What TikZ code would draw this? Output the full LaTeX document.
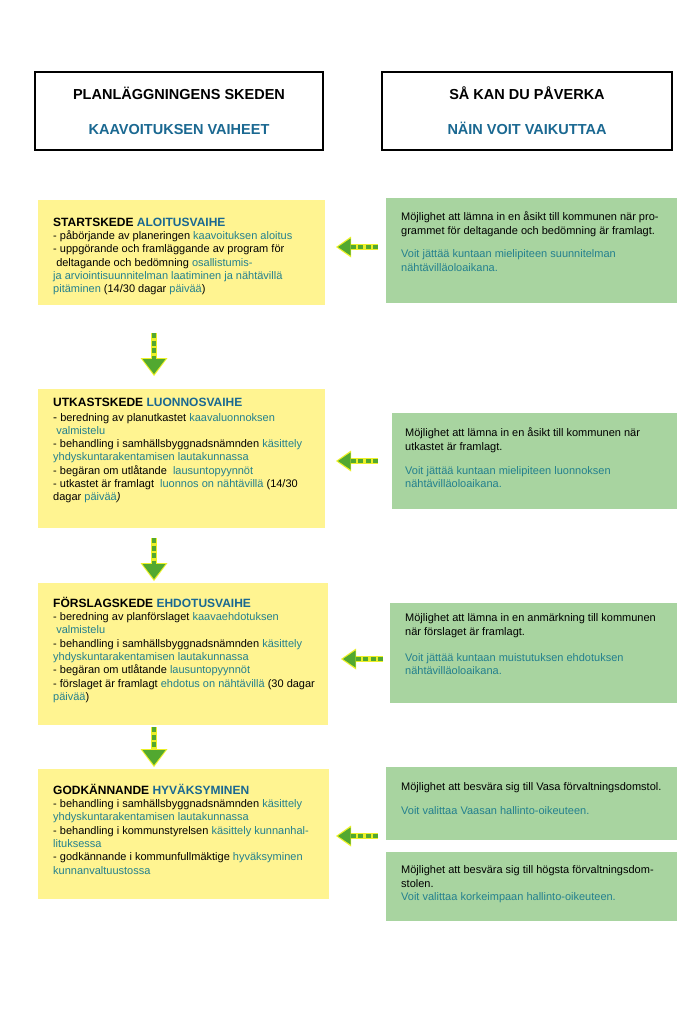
\documentclass[tikz,border=0pt]{standalone}
\usepackage{fontspec}
\setmainfont{Liberation Sans}
\usetikzlibrary{arrows.meta}
\definecolor{yfill}{RGB}{255,244,145}
\definecolor{gfill}{RGB}{168,212,160}
\definecolor{tealtxt}{RGB}{36,128,142}
\definecolor{titleblue}{RGB}{26,104,145}
\definecolor{agreen}{RGB}{82,168,48}
\definecolor{ayel}{RGB}{236,240,40}
\newcommand\fintxt[1]{\textcolor{tealtxt}{#1}}
\newcommand\fintitle[1]{\textcolor{titleblue}{#1}}
\newcommand\firststrut{\rule{0pt}{12pt}}
\tikzset{
  hdr/.style={draw=black, line width=2.6pt, fill=white, minimum width=#1, minimum height=78pt, inner sep=0pt, align=center, font=\fontsize{14.5}{35}\selectfont\bfseries},
  ybox/.style={fill=yfill, draw=none, anchor=north west, inner sep=0pt},
  gbox/.style={fill=gfill, draw=none, anchor=north west, inner sep=0pt},
  txt/.style={anchor=north west, inner sep=0pt, align=left, font=\fontsize{11}{13.3}\selectfont},
}
\newcommand\phasearrow[6]{%
  \draw[draw=ayel, line width=6pt, -{Triangle[length=#3pt, width=#4pt, line width=0pt, fill=ayel]}] (#1) -- (#2);
  \draw[draw=agreen, line width=3.6pt, dash pattern=on 5pt off 2.5pt, -{Triangle[length=#5pt, width=#6pt, line width=0pt, fill=agreen]}, shorten >=2pt] (#1) -- (#2);}
\begin{document}
\begin{tikzpicture}[x=1pt, y=-1pt]
\useasboundingbox[fill=white] (0,0) rectangle (699,1027);

% headers
\node[hdr=288pt] (hL) at (179,111) {PLANLÄGGNINGENS SKEDEN\\\fintitle{KAAVOITUKSEN VAIHEET}};
\node[hdr=290pt] (hR) at (527,111) {SÅ KAN DU PÅVERKA\\\fintitle{NÄIN VOIT VAIKUTTAA}};

% yellow boxes
\node[ybox, minimum width=287pt, minimum height=105pt] (y1) at (38,200) {};
\node[ybox, minimum width=287pt, minimum height=139pt] (y2) at (38,389) {};
\node[ybox, minimum width=290pt, minimum height=142pt] (y3) at (38,583) {};
\node[ybox, minimum width=291pt, minimum height=130pt] (y4) at (38,769) {};

% green boxes
\node[gbox, minimum width=291pt, minimum height=105pt] (g1) at (386,198) {};
\node[gbox, minimum width=285pt, minimum height=96pt] (g2) at (392,413) {};
\node[gbox, minimum width=287pt, minimum height=100pt] (g3) at (390,603) {};
\node[gbox, minimum width=291pt, minimum height=73pt] (g4) at (386,767) {};
\node[gbox, minimum width=291pt, minimum height=69pt] (g5) at (386,852) {};

% yellow texts
\node[txt] (t1) at (53,214) {\firststrut{\fontsize{12}{13}\selectfont\bfseries STARTSKEDE \fintitle{ALOITUSVAIHE}}\\
- påbörjande av planeringen \fintxt{kaavoituksen aloitus}\\
- uppgörande och framläggande av program för\\
\ deltagande och bedömning \fintxt{osallistumis-}\\
\fintxt{ja arviointisuunnitelman laatiminen ja nähtävillä}\\
\fintxt{pitäminen} (14/30 dagar \fintxt{päivää})};

\node[txt] (t2) at (53,394) {\firststrut{\fontsize{12}{13}\selectfont\bfseries UTKASTSKEDE \fintitle{LUONNOSVAIHE}}\\[1.5pt]
{\large -} beredning av planutkastet \fintxt{kaavaluonnoksen}\\
\ \fintxt{valmistelu}\\
- behandling i samhällsbyggnadsnämnden \fintxt{käsittely}\\
\fintxt{yhdyskuntarakentamisen lautakunnassa}\\
- begäran om utlåtande\ \ \fintxt{lausuntopyynnöt}\\
- utkastet är framlagt\ \ \fintxt{luonnos on nähtävillä} (14/30\\
dagar \fintxt{päivää}\textit{)}};

\node[txt] (t3) at (53,595) {\firststrut{\fontsize{12}{13}\selectfont\bfseries FÖRSLAGSKEDE \fintitle{EHDOTUSVAIHE}}\\
- beredning av planförslaget \fintxt{kaavaehdotuksen}\\
\ \fintxt{valmistelu}\\
- behandling i samhällsbyggnadsnämnden \fintxt{käsittely}\\
\fintxt{yhdyskuntarakentamisen lautakunnassa}\\
- begäran om utlåtande \fintxt{lausuntopyynnöt}\\
- förslaget är framlagt \fintxt{ehdotus on nähtävillä} (30 dagar\\
\fintxt{päivää})};

\node[txt] (t4) at (53,782) {\firststrut{\fontsize{12}{13}\selectfont\bfseries GODKÄNNANDE \fintitle{HYVÄKSYMINEN}}\\
- behandling i samhällsbyggnadsnämnden \fintxt{käsittely}\\
\fintxt{yhdyskuntarakentamisen lautakunnassa}\\
- behandling i kommunstyrelsen \fintxt{käsittely kunnanhal-}\\
\fintxt{lituksessa}\\
- godkännande i kommunfullmäktige \fintxt{hyväksyminen}\\
\fintxt{kunnanvaltuustossa}};

% green texts
\node[txt] (u1) at (401,208.5) {\firststrut Möjlighet att lämna in en åsikt till kommunen när pro-\\
grammet för deltagande och bedömning är framlagt.\\[10.5pt]
\fintxt{Voit jättää kuntaan mielipiteen suunnitelman}\\
\fintxt{nähtävilläoloaikana.}};

\node[txt] (u2) at (405,424.5) {\firststrut Möjlighet att lämna in en åsikt till kommunen när\\
utkastet är framlagt.\\[11pt]
\fintxt{Voit jättää kuntaan mielipiteen luonnoksen}\\
\fintxt{nähtävilläoloaikana.}};

\node[txt] (u3) at (405,609.5) {\firststrut Möjlighet att lämna in en anmärkning till kommunen\\
när förslaget är framlagt.\\[13pt]
\fintxt{Voit jättää kuntaan muistutuksen ehdotuksen}\\
\fintxt{nähtävilläoloaikana.}};

\node[txt] (u4) at (401,778.5) {\firststrut Möjlighet att besvära sig till Vasa förvaltningsdomstol.\\[10pt]
\fintxt{Voit valittaa Vaasan hallinto-oikeuteen.}};

\node[txt] (u5) at (401,861.5) {\firststrut Möjlighet att besvära sig till högsta förvaltningsdom-\\
stolen.\\
\fintxt{Voit valittaa korkeimpaan hallinto-oikeuteen.}};

% arrow end points
\coordinate (d1s) at (154,333); \coordinate (d1e) at (154,376);
\coordinate (d2s) at (154,538); \coordinate (d2e) at (154,581);
\coordinate (d3s) at (154,727); \coordinate (d3e) at (154,767);
\coordinate (l1s) at (378,247); \coordinate (l1e) at (336,247);
\coordinate (l2s) at (378,461); \coordinate (l2e) at (336,461);
\coordinate (l3s) at (383,659); \coordinate (l3e) at (341,659);
\coordinate (l4s) at (378,836); \coordinate (l4e) at (336,836);

\phasearrow{d1s}{d1e}{18}{27}{15}{23}
\phasearrow{d2s}{d2e}{18}{27}{15}{23}
\phasearrow{d3s}{d3e}{18}{27}{15}{23}
\phasearrow{l1s}{l1e}{15}{21}{12.5}{17}
\phasearrow{l2s}{l2e}{15}{21}{12.5}{17}
\phasearrow{l3s}{l3e}{15}{21}{12.5}{17}
\phasearrow{l4s}{l4e}{15}{21}{12.5}{17}
\end{tikzpicture}
\end{document}
